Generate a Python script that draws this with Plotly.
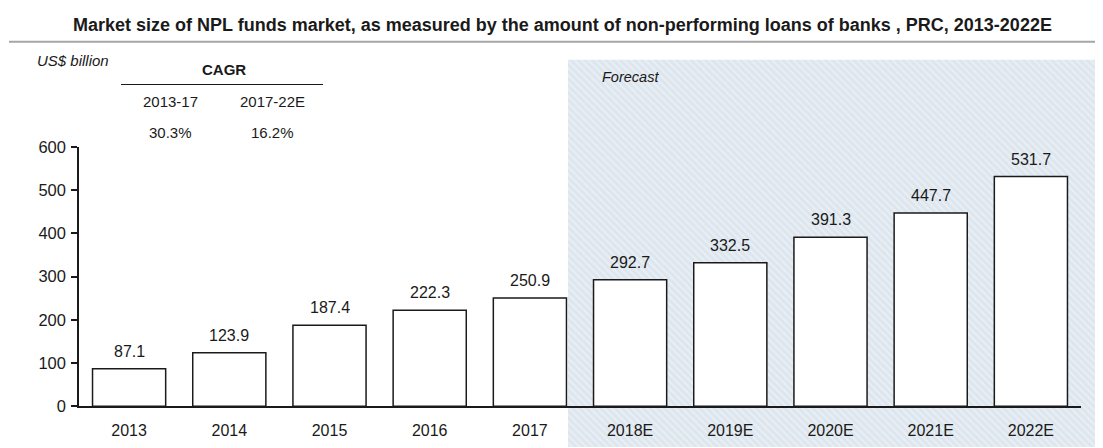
import plotly.graph_objects as go

W, H = 1103, 448
# empirical page mapping: screen_x = fig_x + 8 ; screen_y = 0.9656 * fig_y + 15.1
XOFF = 8
YSCALE, YOFF = 0.9656, 15.1

categories = ["2013", "2014", "2015", "2016", "2017", "2018E", "2019E", "2020E", "2021E", "2022E"]
values = [87.1, 123.9, 187.4, 222.3, 250.9, 292.7, 332.5, 391.3, 447.7, 531.7]
value_labels = ["87.1", "123.9", "187.4", "222.3", "250.9", "292.7", "332.5", "391.3", "447.7", "531.7"]
y_ticks = [0, 100, 200, 300, 400, 500, 600]
cagr_periods = ["2013-17", "2017-22E"]
cagr_values = ["30.3%", "16.2%"]

title = "Market size of NPL funds market, as measured by the amount of non-performing loans of banks , PRC, 2013-2022E"
FONT = "Liberation Sans, Arial, sans-serif"
TXT = "#1a1a1a"


def fx(x):
    return x - XOFF


def fy(y):
    return (y - YOFF) / YSCALE


def px(x):
    return fx(x) / W


def py(y):
    return 1 - fy(y) / H


fig = go.Figure()

# Forecast hatched background on a full-figure overlay subplot (drawn first)
hx0, hy0 = fx(568), fy(58)
fig.add_trace(go.Scatter(
    x=[hx0, W, W, hx0, hx0], y=[hy0, hy0, H, H, hy0],
    mode="lines", fill="toself", line=dict(width=0),
    fillcolor="#dde6ee",
    fillpattern=dict(shape="\\", bgcolor="#dde6ee", fgcolor="#f5f8fa", size=5, solidity=0.4),
    hoverinfo="skip", showlegend=False,
    xaxis="x", yaxis="y",
))

fig.add_trace(go.Bar(
    x=categories, y=values,
    marker=dict(color="white", line=dict(color="#1a1a1a", width=1.5)),
    xaxis="x2", yaxis="y2", showlegend=False, hoverinfo="x+y",
))

fig.update_layout(
    width=W, height=H,
    margin=dict(l=0, r=0, t=0, b=0),
    paper_bgcolor="white", plot_bgcolor="rgba(0,0,0,0)",
    font=dict(family=FONT, size=15, color=TXT),
    bargap=0.27,
    xaxis=dict(domain=[0, 1], range=[0, W], visible=False, fixedrange=True),
    yaxis=dict(domain=[0, 1], range=[H, 0], visible=False, fixedrange=True),
    xaxis2=dict(
        domain=[px(79), px(1081)], anchor="y2",
        type="category", range=[-0.5, 9.5],
        showline=True, linecolor="#1a1a1a", linewidth=1.5,
        ticks="", showgrid=False, zeroline=False,
        ticklabelstandoff=9,
        tickfont=dict(family=FONT, size=16, color=TXT),
    ),
    yaxis2=dict(
        domain=[py(406.7), py(146)], anchor="x2",
        range=[0, 600], tickvals=y_ticks,
        showline=True, linecolor="#1a1a1a", linewidth=1.5,
        ticks="outside", ticklen=6, tickcolor="#1a1a1a", tickwidth=1.5,
        showgrid=False, zeroline=False,
        ticklabelstandoff=2,
        tickfont=dict(family=FONT, size=16.5, color=TXT),
    ),
)

ann = []
# bar value labels, positioned through the bar axes (category index)
for i, (v, t) in enumerate(zip(values, value_labels)):
    ann.append(dict(x=i, y=v, xref="x2", yref="y2", text=t, showarrow=False,
                    yanchor="bottom", xanchor="center", yshift=7,
                    font=dict(family=FONT, size=16, color=TXT)))

pa = []
pa.append(dict(x=px(562), y=py(22.7), text="<b>" + title + "</b>", font=dict(size=18)))
pa.append(dict(x=px(35), y=py(59.3), text="<i>US$ billion</i>", xanchor="left", font=dict(size=15)))
pa.append(dict(x=px(224), y=py(68.3), text="<b>CAGR</b>", font=dict(size=15)))
cx = [170, 272]
for i in range(2):
    pa.append(dict(x=px(cx[i]), y=py(100.5), text=cagr_periods[i], font=dict(size=15)))
    pa.append(dict(x=px(cx[i]), y=py(131), text=cagr_values[i], font=dict(size=15)))
pa.append(dict(x=px(600), y=py(75), text="<i>Forecast</i>", xanchor="left", font=dict(size=14.5)))
for a in pa:
    a.update(xref="paper", yref="paper", showarrow=False)
    a.setdefault("xanchor", "center")
    a["yanchor"] = "middle"
fig.update_layout(annotations=ann + pa)

fig.update_layout(shapes=[
    dict(type="line", xref="paper", yref="paper", x0=px(9), x1=1.0, y0=py(40), y1=py(40),
         line=dict(color="#a6a6a6", width=2)),
    dict(type="line", xref="paper", yref="paper", x0=px(121), x1=px(323), y0=py(83), y1=py(83),
         line=dict(color="#1a1a1a", width=1.2)),
])

fig.write_html("out.html")
